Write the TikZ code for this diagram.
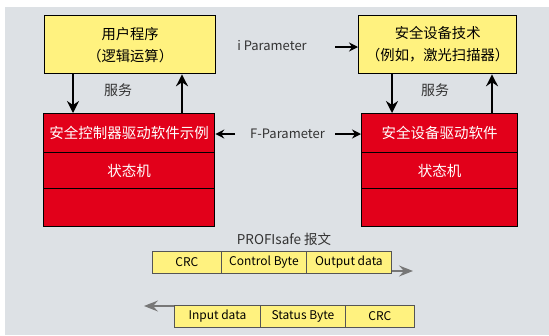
\documentclass[tikz,border=0pt]{standalone}
\usepackage{fontspec}
\setmainfont{Noto Sans CJK SC}
\usetikzlibrary{arrows.meta}
\definecolor{bgc}{HTML}{DDE1E5}
\definecolor{yfill}{HTML}{FFF27F}
\definecolor{rfill}{HTML}{E2001A}
\definecolor{garr}{HTML}{777777}
\definecolor{txt}{HTML}{333333}
\definecolor{cellline}{HTML}{555555}
\tikzset{
  ybox/.style={draw=black, line width=1.3pt, fill=yfill, inner sep=0pt, anchor=north west,
    align=center, text=black, font=\fontsize{14.3}{22}\selectfont},
  rbox/.style={draw=black, line width=1.3pt, fill=rfill, inner sep=0pt, anchor=north west,
    align=center, text=white, font=\fontsize{14.5}{16}\selectfont},
  cell/.style={draw=cellline, line width=0.8pt, fill=yfill, inner sep=0pt, anchor=north west,
    minimum height=22pt, text=black, font=\fontsize{12}{14}\selectfont},
  lbl/.style={text=txt, inner sep=0pt, font=\fontsize{13}{15}\selectfont},
  varr/.style={line width=1.5pt, -{Stealth[length=12pt,width=12pt,inset=4pt]}},
  harr/.style={line width=1.3pt, -{Stealth[length=9pt,width=9pt,inset=3pt]}},
  garrow/.style={draw=garr, line width=1.2pt, -{Stealth[length=14pt,width=11pt,inset=5pt]}},
}
\begin{document}
\begin{tikzpicture}[x=1pt,y=-1pt]
\useasboundingbox (0,0) rectangle (549,335);
\fill[white] (0,0) rectangle (549,335);
\fill[bgc] (5,7) rectangle (549,335);

% left column
\node[ybox, minimum width=171pt, minimum height=58pt] (ly) at (44,15) {用户程序\\（逻辑运算）};
\node[rbox, minimum width=171pt, minimum height=39pt] (lr1) at (43,113) {安全控制器驱动软件示例};
\node[rbox, minimum width=171pt, minimum height=36pt] (lr2) at (43,152) {状态机};
\node[rbox, minimum width=171pt, minimum height=38pt] (lr3) at (43,188) {};

% right column
\node[ybox, minimum width=158pt, minimum height=58pt] (ry) at (358,15) {安全设备技术\\（例如，激光扫描器）};
\node[rbox, minimum width=156pt, minimum height=39pt] (rr1) at (361,113) {安全设备驱动软件};
\node[rbox, minimum width=156pt, minimum height=36pt] (rr2) at (361,152) {状态机};
\node[rbox, minimum width=156pt, minimum height=38pt] (rr3) at (361,188) {};

% service arrows
\coordinate (xa) at (73,0);
\coordinate (xb) at (182,0);
\coordinate (xc) at (392,0);
\coordinate (xd) at (492,0);
\draw[varr] (ly.south -| xa) -- (lr1.north -| xa);
\draw[varr] (lr1.north -| xb) -- (ly.south -| xb);
\draw[varr] (ry.south -| xc) -- (rr1.north -| xc);
\draw[varr] (rr1.north -| xd) -- (ry.south -| xd);
\node[lbl, font=\fontsize{14}{15}\selectfont] (sl) at (118,90) {服务};
\node[lbl, font=\fontsize{14}{15}\selectfont] (sr) at (435,90) {服务};

% parameters
\node[lbl] (ip) at (272,46) {i Parameter};
\coordinate (ipt) at (335,47);
\draw[harr] (ipt) -- (ipt -| ry.west);
\node[lbl] (fp) at (287.5,134) {F-Parameter};
\coordinate (fpl) at (235,134);
\coordinate (fpr) at (335,134);
\draw[harr] (fpl) -- (fpl -| lr1.east);
\draw[harr] (fpr) -- (fpr -| rr1.west);

% PROFIsafe frame
\node[lbl, font=\fontsize{13.5}{15}\selectfont] (pt) at (284,239) {PROFIsafe 报文};
\node[cell, minimum width=69pt] (c1) at (152,251) {CRC};
\node[cell, minimum width=85pt] (c2) at (221,251) {Control Byte};
\node[cell, minimum width=85pt] (c3) at (306,251) {Output data};
\coordinate (o1) at (413,271);
\draw[garrow] (c3.south east |- o1) -- (o1);

\node[cell, minimum width=86pt] (d1) at (174,305) {Input data};
\node[cell, minimum width=85pt] (d2) at (260,305) {Status Byte};
\node[cell, minimum width=69pt] (d3) at (345,305) {CRC};
\coordinate (o2) at (144,306);
\draw[garrow] (d1.north west |- o2) -- (o2);
\end{tikzpicture}
\end{document}
